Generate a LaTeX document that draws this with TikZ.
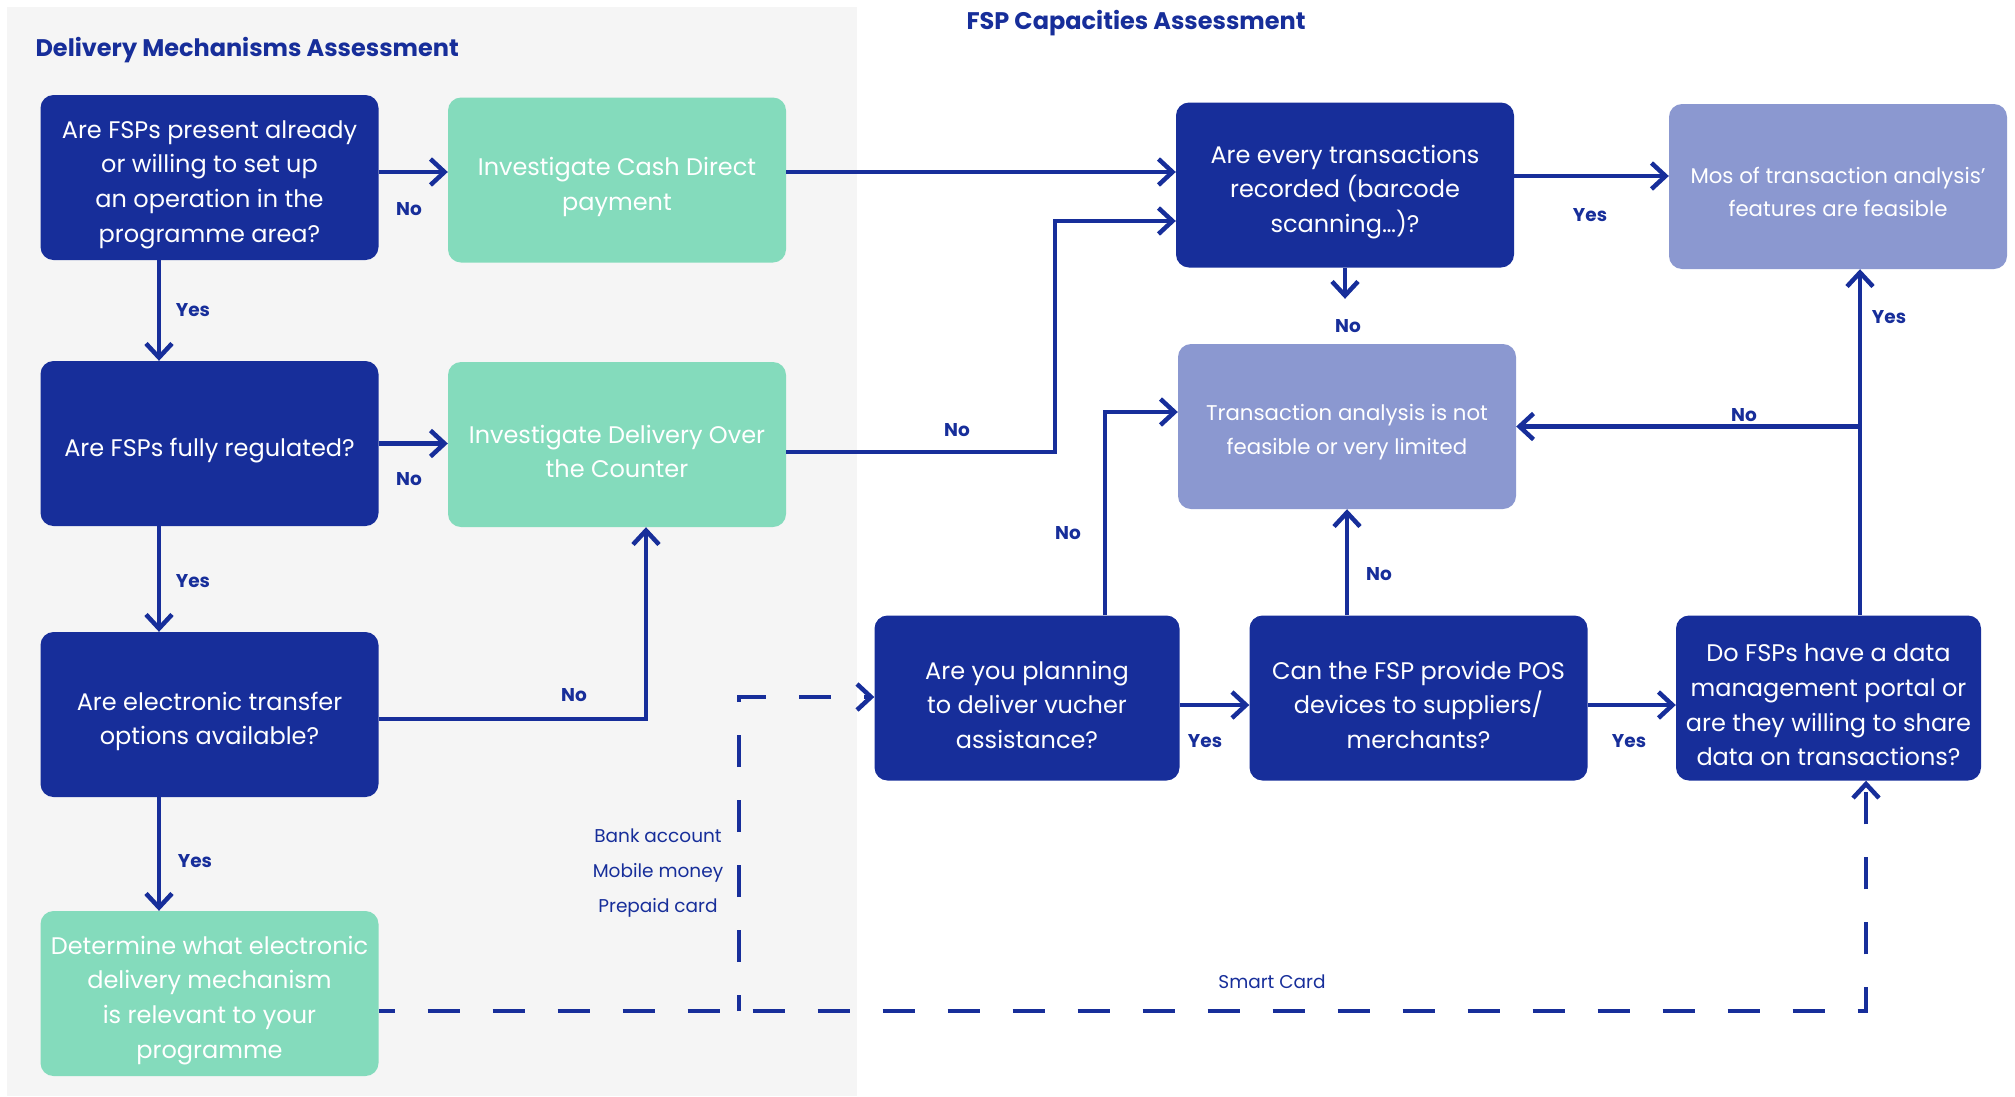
\documentclass[tikz,border=0pt]{standalone}
\usepackage{fontspec}
\setmainfont{Poppins}
\usepackage{tikz}
\usetikzlibrary{arrows.meta,backgrounds,calc}
\definecolor{fspblue}{RGB}{23,46,154}
\definecolor{fspgreen}{RGB}{132,219,188}
\definecolor{fsplilac}{RGB}{139,152,208}
\definecolor{panelgray}{RGB}{245,245,245}
\newcommand\padtop[1][32pt]{\rule{0pt}{#1}}
\tikzset{
  box/.style={rounded corners=13pt, minimum width=338pt, minimum height=165pt, inner sep=0pt,
    align=center, text=white},
  bigtext/.style={font=\fontsize{24}{34.7}\selectfont},
  question/.style={box, bigtext, fill=fspblue},
  action/.style={box, bigtext, fill=fspgreen},
  outcome/.style={box, fill=fsplilac, font=\fontsize{21.3}{33.5}\selectfont},
  arr/.style={draw=fspblue, line width=4.5pt, -{Straight Barb[length=14pt,width=26pt]}},
  dashline/.style={arr, dash pattern=on 32pt off 33pt, dash phase=16pt},
  lbl/.style={text=fspblue, font=\bfseries\fontsize{18.5}{20}\selectfont},
  opt/.style={text=fspblue, align=center, font=\fontsize{18.5}{34.7}\selectfont},
  ttl/.style={text=fspblue, anchor=west, font=\bfseries\fontsize{24}{28}\selectfont}
}
\begin{document}
\begin{tikzpicture}[x=1pt,y=-1pt]
\useasboundingbox (0,0) rectangle (2015,1096);
\fill[panelgray] (7,7) rectangle (857,1096);

\node[ttl] (dmtitle) at (32,50.5) {Delivery Mechanisms Assessment};
\node[ttl] (fsptitle) at (963,23.5) {FSP Capacities Assessment};

\node[question] (present) at (209.5,177.5) {\padtop Are FSPs present already\\or willing to set up\\an operation in the\\programme area?};
\node[action] (cashdirect) at (617,180) {\padtop Investigate Cash Direct\\payment};
\node[question] (regulated) at (209.5,443.5) {\padtop Are FSPs fully regulated?};
\node[action] (otc) at (617,444.5) {\padtop Investigate Delivery Over\\the Counter};
\node[question] (electronic) at (209.5,714.5) {\padtop Are electronic transfer\\options available?};
\node[action] (determine) at (209.5,993.5) {\padtop Determine what electronic\\delivery mechanism\\is relevant to your\\programme};
\node[question] (recorded) at (1345,185) {\padtop Are every transactions\\recorded (barcode\\scanning…)?};
\node[outcome] (feasible) at (1838,186.5) {\padtop[27.5pt]Mos of transaction analysis’\\features are feasible};
\node[outcome] (limited) at (1347,426.5) {\padtop[27.5pt]Transaction analysis is not\\feasible or very limited};
\node[question, minimum width=305pt] (voucher) at (1027,698) {\padtop Are you planning\\to deliver vucher\\assistance?};
\node[question] (pos) at (1418.5,698) {\padtop Can the FSP provide POS\\devices to suppliers/\\merchants?};
\node[question, minimum width=305pt] (portal) at (1828.5,698) {\padtop Do FSPs have a data\\management portal or\\are they willing to share\\data on transactions?};

\coordinate (rowa) at (0,172);
\coordinate (rowb) at (0,452);
\coordinate (rowc) at (0,221);
\coordinate (rowd) at (0,176);
\coordinate (rowe) at (0,412);
\coordinate (rowf) at (0,705);
\coordinate (rowg) at (0,719);
\coordinate (rowh) at (0,1011);
\coordinate (rowi) at (0,697);
\coordinate (cola) at (159,0);
\coordinate (colb) at (646,0);
\coordinate (colc) at (1055,0);
\coordinate (cold) at (1105,0);
\coordinate (cole) at (1860,0);
\coordinate (colf) at (739,0);
\coordinate (colg) at (1866,0);

\draw[arr] (present.east |- rowa) -- (cashdirect.west |- rowa);
\draw[arr] (present.south -| cola) -- (regulated.north -| cola);
\draw[arr] (regulated.east) -- (regulated.east -| otc.west);
\draw[arr] (regulated.south -| cola) -- (electronic.north -| cola);
\draw[arr] (electronic.east |- rowg) -- (colb |- rowg) -- (otc.south -| colb);
\draw[arr] (electronic.south -| cola) -- (determine.north -| cola);
\draw[arr] (cashdirect.east |- rowa) -- (recorded.west |- rowa);
\draw[arr] (otc.east |- rowb) -- (colc |- rowb) -- (colc |- rowc) -- (recorded.west |- rowc);
\draw[arr] (recorded.east |- rowd) -- (feasible.west |- rowd);
\draw[arr, shorten >=45pt] (recorded.south) -- (recorded.south |- limited.north);
\draw[arr] (voucher.north -| cold) -- (cold |- rowe) -- (limited.west |- rowe);
\draw[arr] (voucher.east |- rowf) -- (pos.west |- rowf);
\draw[arr] (pos.north -| limited.south) -- (limited.south);
\draw[arr] (pos.east |- rowf) -- (portal.west |- rowf);
\draw[arr] (portal.north -| cole) -- (feasible.south -| cole);
\draw[arr] (limited.east -| cole) -- (limited.east);
\draw[dashline] (determine.east |- rowh) -- (colg |- rowh) -- (portal.south -| colg);
\draw[dashline] (colf |- rowh) -- (colf |- rowi) -- (voucher.west |- rowi);

\node[lbl] (no1) at (409,209) {No};
\node[lbl] (yes1) at (193,310) {Yes};
\node[lbl] (no2) at (409,479) {No};
\node[lbl] (yes2) at (193,581) {Yes};
\node[lbl] (no3) at (574,695) {No};
\node[lbl] (yes3) at (195,861) {Yes};
\node[lbl] (no4) at (957,430) {No};
\node[lbl] (yes4) at (1590,215) {Yes};
\node[lbl] (no5) at (1348,326) {No};
\node[lbl] (no6) at (1068,533) {No};
\node[lbl] (yes5) at (1205,741) {Yes};
\node[lbl] (no7) at (1379,574) {No};
\node[lbl] (yes6) at (1629,741) {Yes};
\node[lbl] (yes7) at (1889,317) {Yes};
\node[lbl] (no8) at (1744,415) {No};

\node[opt] (channels) at (658,873) {Bank account\\Mobile money\\Prepaid card};
\node[opt] (smartcard) at (1272,982) {Smart Card};
\end{tikzpicture}
\end{document}
